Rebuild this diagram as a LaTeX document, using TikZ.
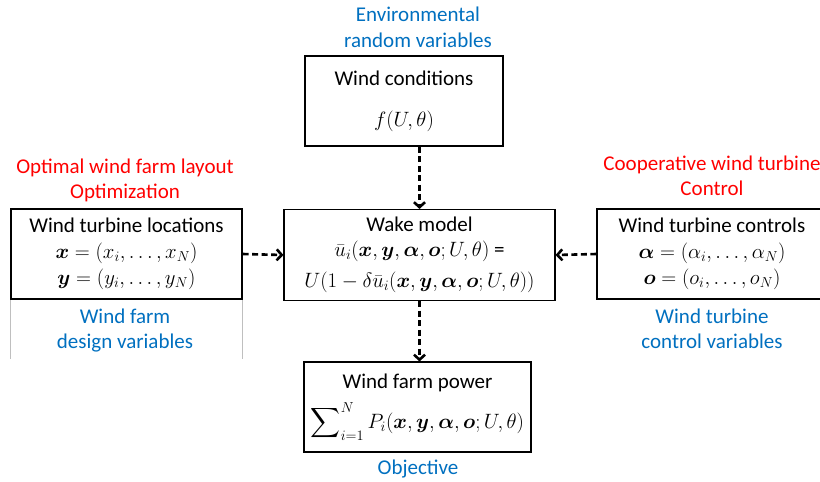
\documentclass[tikz,border=0pt]{standalone}
\usepackage{amsmath,bm}
\usepackage{fontspec}
\setmainfont{Carlito}
\usetikzlibrary{arrows.meta}
\definecolor{myblue}{RGB}{0,112,192}
\definecolor{myred}{RGB}{255,0,0}
\begin{document}
\begin{tikzpicture}[x=1pt,y=-1pt,
  box/.style={draw,line width=1.1pt,align=center,inner sep=0pt,font=\fontsize{21}{25}\selectfont},
  lbl/.style={align=center,inner sep=0pt,font=\fontsize{21}{25.5}\selectfont},
  flow/.style={line width=2.6pt,dash pattern=on 6pt off 3.5pt,-{Straight Barb[length=5pt,width=11pt]}}]
\clip (0,0) rectangle (820,482);
\fill[white] (0,0) rectangle (820,482);
% boxes
\node[box,minimum width=198pt,minimum height=90pt] (cond) at (404,101)
  {Wind conditions\\[16pt] $f(U,\theta)$};
\node[box,minimum width=271pt,minimum height=91pt] (wake) at (419.5,255)
  {Wake model\\[0pt] $\bar{u}_i(\bm{x},\bm{y},\bm{\alpha},\bm{o};U,\theta)$ =\\[6pt] $U(1-\delta\bar{u}_i(\bm{x},\bm{y},\bm{\alpha},\bm{o};U,\theta))$};
\node[box,minimum width=227pt,minimum height=90pt] (power) at (417.5,407)
  {Wind farm power\\[10pt] $\displaystyle\sum\nolimits_{i=1}^{N} P_i(\bm{x},\bm{y},\bm{\alpha},\bm{o};U,\theta)$};
\node[box,minimum width=231pt,minimum height=90pt] (left) at (126.5,254)
  {Wind turbine locations\\[1pt] $\bm{x}=(x_i,\ldots,x_N)$\\[1pt] $\bm{y}=(y_i,\ldots,y_N)$};
\node[box,minimum width=230pt,minimum height=90pt] (right) at (712,254)
  {Wind turbine controls\\[1pt] $\bm{\alpha}=(\alpha_i,\ldots,\alpha_N)$\\[1pt] $\bm{o}=(o_i,\ldots,o_N)$};
% labels
\node[lbl,text=myblue] (env) at (418,27.5) {Environmental\\random variables};
\node[lbl,text=myred] (opt) at (125,180.5) {Optimal wind farm layout\\Optimization};
\node[lbl,text=myred] (coop) at (712,176) {Cooperative wind turbine\\Control};
\node[lbl,text=myblue] (design) at (125,330.5) {Wind farm\\design variables};
\node[lbl,text=myblue] (ctrl) at (712,329) {Wind turbine\\control variables};
\node[lbl,text=myblue] (obj) at (418,469) {Objective};
% faint frame lines
\draw[black!25,line width=0.8pt] (left.south west) -- ++(0,59);
\draw[black!25,line width=0.8pt] (left.south east) -- ++(0,59);
% arrows
\draw[flow] (wake.north |- cond.south) -- (wake.north);
\draw[flow] (left.east) -- (wake.west);
\draw[flow] (right.west) -- (wake.east);
\draw[flow] (wake.south) -- (wake.south |- power.north);
\end{tikzpicture}
\end{document}
